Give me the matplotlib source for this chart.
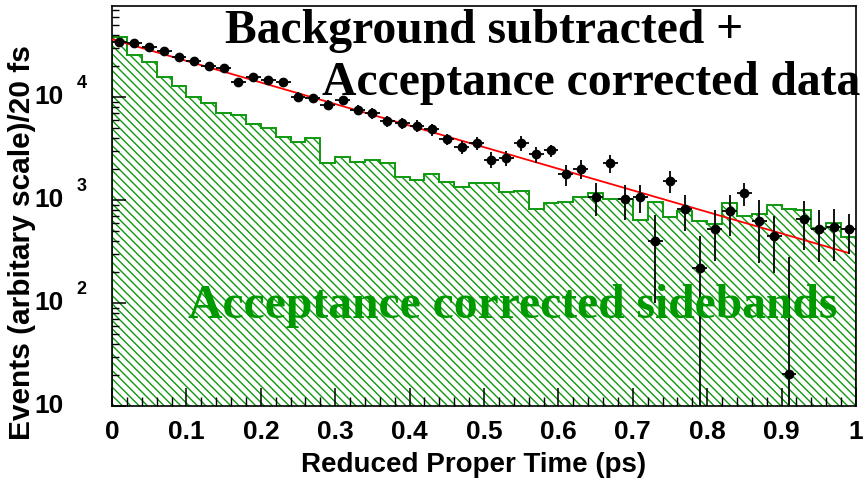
import numpy as np
import matplotlib.pyplot as plt
from matplotlib.ticker import MultipleLocator, LogLocator, NullFormatter

# 50 bins of 20 fs over the reduced proper time range
t_lo, t_hi, n_bins = 0.0, 1.0, 50

# acceptance corrected sidebands (histogram contents)
sideband = [38500, 25600, 22000, 15700, 12800, 10100, 8700, 6950, 6700, 5500,
            5000, 4120, 3660, 4000, 2270, 2640, 2340, 2420, 2270, 1680,
            1565, 1790, 1505, 1346, 1452, 1452, 1205, 1223, 818, 929,
            962, 1077, 1156, 1023, 1011, 640, 946, 684, 782, 625,
            585, 935, 699, 739, 894, 818, 800, 535, 598, 434]

# background subtracted + acceptance corrected data
data = [34430, 33660, 30760, 28160, 24450, 22500, 19990, 19000, 14090, 15740,
        14620, 14090, 10070, 9710, 8360, 9360, 7480, 6950, 5850, 5560,
        5260, 4850, 3880, 3250, 3550, 2470, 2570, 3575, 2765, 3035,
        1770, 2010, 1077, 2270, 1016, 1077, 404, 1540, 813, 217,
        528, 782, 1161, 625, 447, 20.5, 650, 523, 541, 517]
data_err = [1900, 1900, 1800, 1700, 1600, 1500, 1400, 1400, 1200, 1250,
            1200, 1150, 1000, 1000, 900, 950, 850, 800, 750, 720,
            700, 650, 500, 470, 500, 430, 450, 560, 470, 420,
            400, 420, 380, 450, 370, 330, 305, 370, 310, 228,
            275, 340, 290, 380, 250, 258, 320, 275, 285, 220]

# exponential fit to the data
fit_norm = 36300.0
fit_tau = 0.2073
fit_range = (0.0, 0.99)

edges = np.linspace(t_lo, t_hi, n_bins + 1)
centers = 0.5 * (edges[:-1] + edges[1:])
half_bin = 0.5 * (edges[1] - edges[0])

green = '#0f990f'
sans = ['Liberation Sans Narrow', 'Liberation Sans', 'DejaVu Sans']
serif = ['Liberation Serif', 'DejaVu Serif']
back_hatch = chr(92) * 4   # backslashes -> dense diagonal lines

plt.rcParams['hatch.linewidth'] = 1.0

fig = plt.figure(figsize=(8.63, 4.95), dpi=100)
ax = fig.add_axes([0.1298, 0.1798, 0.8621, 0.8081])
ax.set_yscale('log')

ax.stairs(sideband, edges, baseline=1.0, fill=True, facecolor='white',
          edgecolor=green, hatch=back_hatch, linewidth=1.4, zorder=1)

t_fit = np.linspace(fit_range[0], fit_range[1], 200)
ax.plot(t_fit, fit_norm * np.exp(-t_fit / fit_tau), color='red', lw=1.3, zorder=3)

ax.errorbar(centers, data, xerr=half_bin, yerr=data_err, fmt='o', color='black',
            ms=6, elinewidth=1.3, capsize=0, zorder=4)

ax.set_xlim(t_lo, t_hi)
ax.set_ylim(10, 76400)

for s in ax.spines.values():
    s.set_linewidth(1.2)

ax.xaxis.set_major_locator(MultipleLocator(0.1))
ax.xaxis.set_minor_locator(MultipleLocator(0.02))
ax.tick_params(axis='x', which='major', direction='in', length=13, width=1.1,
               pad=10, labelsize=19)
ax.tick_params(axis='x', which='minor', direction='in', length=6.5, width=1.0)
ax.set_xticks(np.arange(0, 1.01, 0.1))
ax.set_xticklabels(['0', '0.1', '0.2', '0.3', '0.4', '0.5', '0.6', '0.7',
                    '0.8', '0.9', '1'], family=sans, fontweight='bold')

ax.yaxis.set_major_locator(LogLocator(base=10, numticks=10))
ax.yaxis.set_minor_locator(LogLocator(base=10, subs=np.arange(2, 10), numticks=20))
ax.yaxis.set_major_formatter(NullFormatter())
ax.yaxis.set_minor_formatter(NullFormatter())
ax.tick_params(axis='y', which='major', direction='in', length=10, width=1.1)
ax.tick_params(axis='y', which='minor', direction='in', length=5, width=1.0)

# ROOT style decade labels: "10" with the exponent set apart
for k in range(1, 5):
    ax.annotate('10', xy=(-0.065, 10 ** k), xycoords=('axes fraction', 'data'),
                ha='right', va='center', fontsize=19, family=sans,
                fontweight='bold', annotation_clip=False)
    if k > 1:
        ax.annotate(str(k), xy=(-0.048, 10 ** k), xycoords=('axes fraction', 'data'),
                    xytext=(0, 10), textcoords='offset points', ha='left',
                    va='center', fontsize=13, family=sans, fontweight='bold',
                    annotation_clip=False)

fig.text(0.349, 0.06, 'Reduced Proper Time (ps)', fontsize=20, family=sans,
         fontweight='bold', ha='left', va='center')
fig.text(0.026, 0.51, 'Events (arbitary scale)/20 fs', fontsize=21.5, family=sans,
         fontweight='bold', rotation=90, ha='center', va='center')

fig.text(225 / 863, 1 - 43 / 495, 'Background subtracted +', fontsize=34.3,
         family=serif, fontweight='bold', va='baseline', ha='left')
fig.text(322 / 863, 1 - 95 / 495, 'Acceptance corrected data', fontsize=34.3,
         family=serif, fontweight='bold', va='baseline', ha='left')
fig.text(188 / 863, 1 - 318 / 495, 'Acceptance corrected sidebands', fontsize=34.3,
         family=serif, fontweight='bold', color='#009900', va='baseline', ha='left')

fig.savefig('out.png', dpi=100)
